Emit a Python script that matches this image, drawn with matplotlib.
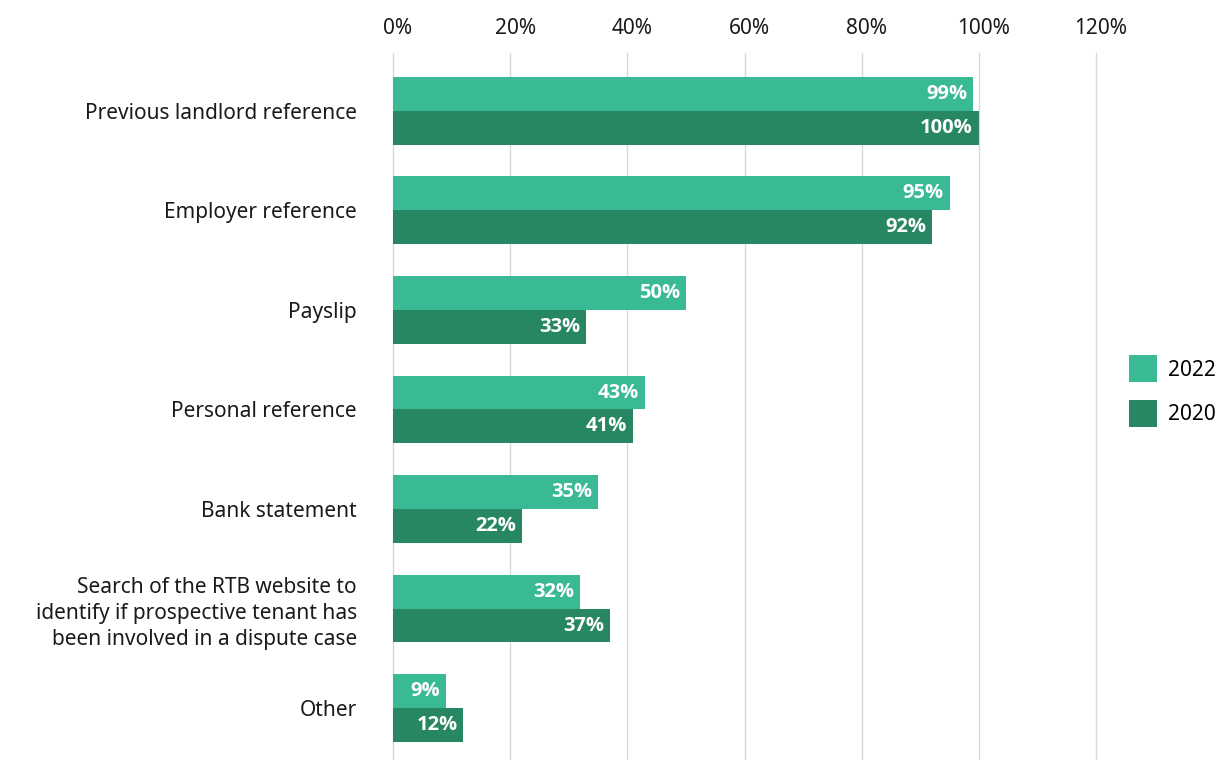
import matplotlib
matplotlib.use("Agg")
import matplotlib.pyplot as plt
import matplotlib.transforms as mtransforms
import numpy as np
from matplotlib.patches import Patch

plt.rcParams['font.family'] = ['Noto Sans', 'DejaVu Sans']

categories = [
    "Previous landlord reference",
    "Employer reference",
    "Payslip",
    "Personal reference",
    "Bank statement",
    "Search of the RTB website to\nidentify if prospective tenant has\nbeen involved in a dispute case",
    "Other",
]
values_2022 = [99, 95, 50, 43, 35, 32, 9]
values_2020 = [100, 92, 33, 41, 22, 37, 12]
series_labels = ["2022", "2020"]
x_ticks = [0, 20, 40, 60, 80, 100, 120]

color_2022 = "#39b994"
color_2020 = "#278762"

fig = plt.figure(figsize=(12.17, 7.6), dpi=100)
ax = fig.add_axes([393 / 1217, 0.0, (1096 - 393) / 1217, (760 - 53) / 760])

y = np.arange(len(categories))
h = 0.34
bars_a = ax.barh(y - h / 2, values_2022, height=h, color=color_2022, edgecolor="none", zorder=2)
bars_b = ax.barh(y + h / 2, values_2020, height=h, color=color_2020, edgecolor="none", zorder=2)

for bars, vals in ((bars_a, values_2022), (bars_b, values_2020)):
    for bar, v in zip(bars, vals):
        ax.text(v - 1.0, bar.get_y() + bar.get_height() / 2, f"{v}%",
                ha="right", va="center", color="white", fontsize=14.5,
                family=["Open Sans", "DejaVu Sans"], fontweight="bold", zorder=3)

ax.set_xlim(0, 120)
ax.set_ylim(6.52, -0.58)
ax.set_xticks(x_ticks)
ax.set_xticklabels([f"{t}%" for t in x_ticks])
ax.xaxis.tick_top()
ax.tick_params(axis="x", length=0, pad=10, labelsize=15, labelcolor="#1a1a1a")
# nudge the percentage labels a few pixels right of their gridlines
shift = mtransforms.ScaledTranslation(5 / 100, 0, fig.dpi_scale_trans)
for lab in ax.get_xticklabels():
    lab.set_transform(lab.get_transform() + shift)

ax.set_yticks(y)
ax.set_yticklabels(categories, fontsize=15, color="#1a1a1a", linespacing=1.3)
ax.tick_params(axis="y", length=0, pad=26)
for lab in ax.get_yticklabels():
    lab.set_horizontalalignment("right")
    lab.set_multialignment("right")

ax.grid(axis="x", color="#d9d9d9", linewidth=1, zorder=0)
for gl in ax.get_xgridlines():
    gl.set_clip_on(False)
ax.set_axisbelow(True)
for s in ax.spines.values():
    s.set_visible(False)

handles = [Patch(facecolor=color_2022, edgecolor="none"),
           Patch(facecolor=color_2020, edgecolor="none")]
fig.legend(handles, series_labels, loc="center left",
           bbox_to_anchor=(1129 / 1217, 1 - 391 / 760), frameon=False,
           fontsize=15, handlelength=1.35, handleheight=1.6,
           labelspacing=0.85, handletextpad=0.5, borderpad=0, borderaxespad=0)

fig.savefig("out.png", dpi=100)
